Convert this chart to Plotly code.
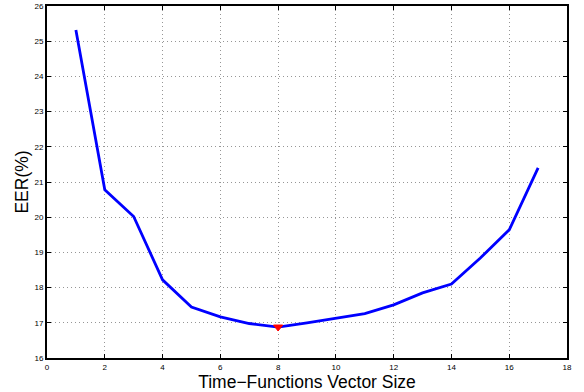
import plotly.graph_objects as go

x_vals = list(range(1, 18))
eer_vals = [25.32, 20.78, 20.02, 18.22, 17.45, 17.17, 16.98, 16.88, 17.00, 17.14,
            17.26, 17.51, 17.85, 18.10, 18.84, 19.64, 21.40]
best_x = [8]
best_y = [16.88]

fig = go.Figure()
fig.add_trace(go.Scatter(x=x_vals, y=eer_vals, mode="lines",
                         line=dict(color="rgb(0,0,255)", width=2.8), showlegend=False))
fig.add_trace(go.Scatter(x=best_x, y=best_y, mode="markers",
                         marker=dict(symbol="triangle-down", color="red", size=8,
                                     line=dict(color="red", width=1)),
                         showlegend=False))

axis_common = dict(
    showline=True, linecolor="black", linewidth=2, mirror="allticks",
    ticks="inside", ticklen=4, tickcolor="black", tickwidth=1,
    showgrid=True, gridcolor="rgb(150,150,150)", griddash="1px,3px", gridwidth=1,
    zeroline=False, automargin=False,
    tickfont=dict(family="Liberation Sans", size=8, color="black"),
)

fig.update_layout(
    width=584, height=392, autosize=False,
    margin=dict(l=47, r=17, t=6, b=34, autoexpand=False),
    paper_bgcolor="white", plot_bgcolor="white",
    xaxis=dict(range=[0, 18], dtick=2, tick0=0,
               title=dict(text="Time\u2212Functions Vector Size", standoff=3,
                          font=dict(family="Liberation Sans", size=17.5, color="black")),
               **axis_common),
    yaxis=dict(range=[16, 26], dtick=1, tick0=16,
               title=dict(text="EER(%)", standoff=1,
                          font=dict(family="Liberation Sans", size=17.5, color="black")),
               **axis_common),
)

fig.write_html("out.html", config={"responsive": False, "displayModeBar": False},
               post_script="document.body.style.margin='0';document.body.style.padding='0';")
